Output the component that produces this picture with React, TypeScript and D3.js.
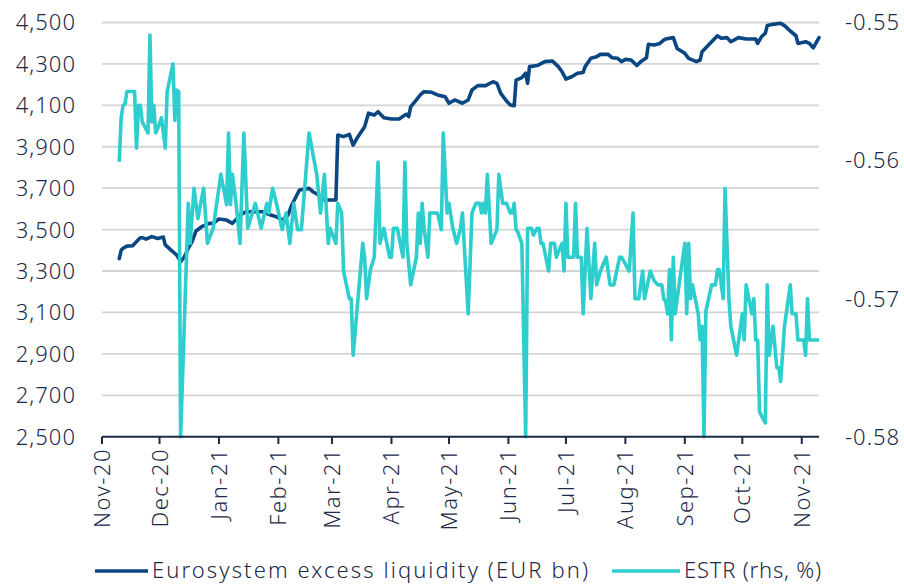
import React from "react";
import * as d3 from "d3";

const monthTicks = ["2020-11-01","2020-12-01","2021-01-01","2021-02-01","2021-03-01","2021-04-01","2021-05-01","2021-06-01","2021-07-01","2021-08-01","2021-09-01","2021-10-01","2021-11-01"];
const leftTicks = [2500, 2700, 2900, 3100, 3300, 3500, 3700, 3900, 4100, 4300, 4500];
const rightTicks = [-0.58, -0.57, -0.56, -0.55];

const liqDates = ["2020-11-10","2020-11-11","2020-11-12","2020-11-14","2020-11-17","2020-11-19","2020-11-21","2020-11-22","2020-11-24","2020-11-27","2020-11-30","2020-12-03","2020-12-04","2020-12-07","2020-12-10","2020-12-12","2020-12-14","2020-12-16","2020-12-18","2020-12-20","2020-12-23","2020-12-27","2020-12-29","2021-01-01","2021-01-05","2021-01-08","2021-01-12","2021-01-15","2021-01-20","2021-01-24","2021-01-28","2021-01-31","2021-02-03","2021-02-06","2021-02-08","2021-02-12","2021-02-17","2021-02-19","2021-02-22","2021-02-25","2021-03-03","2021-03-04","2021-03-07","2021-03-10","2021-03-12","2021-03-14","2021-03-18","2021-03-20","2021-03-23","2021-03-25","2021-03-28","2021-04-01","2021-04-05","2021-04-08","2021-04-09","2021-04-10","2021-04-11","2021-04-14","2021-04-16","2021-04-18","2021-04-22","2021-04-25","2021-04-29","2021-05-01","2021-05-04","2021-05-08","2021-05-11","2021-05-13","2021-05-16","2021-05-20","2021-05-24","2021-05-26","2021-05-28","2021-05-31","2021-06-02","2021-06-04","2021-06-05","2021-06-08","2021-06-10","2021-06-11","2021-06-12","2021-06-16","2021-06-20","2021-06-24","2021-06-27","2021-06-29","2021-07-01","2021-07-04","2021-07-07","2021-07-10","2021-07-11","2021-07-14","2021-07-17","2021-07-19","2021-07-23","2021-07-25","2021-07-28","2021-07-30","2021-08-01","2021-08-04","2021-08-07","2021-08-09","2021-08-12","2021-08-13","2021-08-16","2021-08-19","2021-08-21","2021-08-22","2021-08-26","2021-08-28","2021-09-01","2021-09-03","2021-09-07","2021-09-09","2021-09-10","2021-09-12","2021-09-15","2021-09-18","2021-09-20","2021-09-23","2021-09-25","2021-09-29","2021-10-03","2021-10-08","2021-10-09","2021-10-11","2021-10-13","2021-10-14","2021-10-17","2021-10-21","2021-10-23","2021-10-26","2021-10-29","2021-10-30","2021-11-03","2021-11-05","2021-11-07","2021-11-10"];
const liqValues = [3360,3400,3410,3420,3422,3442,3461,3461,3454,3466,3457,3464,3426,3401,3377,3345,3369,3410,3442,3493,3514,3530,3530,3551,3546,3530,3570,3586,3586,3586,3570,3562,3546,3570,3619,3691,3699,3683,3667,3643,3643,3957,3949,3960,3908,3941,3997,4062,4053,4069,4040,4034,4034,4053,4057,4046,4093,4126,4150,4166,4163,4150,4142,4110,4126,4110,4126,4174,4195,4195,4214,4206,4158,4121,4102,4098,4222,4234,4255,4206,4287,4292,4311,4314,4287,4262,4227,4238,4255,4259,4287,4327,4335,4346,4346,4330,4327,4311,4322,4319,4292,4311,4330,4395,4391,4399,4415,4420,4427,4375,4351,4327,4311,4319,4359,4378,4407,4436,4424,4427,4407,4427,4420,4420,4399,4431,4448,4485,4491,4496,4485,4459,4436,4399,4407,4399,4378,4427];

const estrDates = ["2020-11-10","2020-11-11","2020-11-12","2020-11-13","2020-11-14","2020-11-18","2020-11-19","2020-11-20","2020-11-21","2020-11-22","2020-11-25","2020-11-26","2020-11-27","2020-11-28","2020-11-29","2020-11-30","2020-12-02","2020-12-04","2020-12-05","2020-12-08","2020-12-09","2020-12-10","2020-12-11","2020-12-12","2020-12-16","2020-12-17","2020-12-19","2020-12-21","2020-12-24","2020-12-26","2020-12-29","2021-01-02","2021-01-05","2021-01-06","2021-01-07","2021-01-08","2021-01-10","2021-01-12","2021-01-14","2021-01-16","2021-01-20","2021-01-23","2021-01-26","2021-01-27","2021-01-29","2021-01-31","2021-02-03","2021-02-05","2021-02-07","2021-02-09","2021-02-11","2021-02-13","2021-02-17","2021-02-21","2021-02-23","2021-02-25","2021-02-27","2021-02-28","2021-03-03","2021-03-04","2021-03-06","2021-03-07","2021-03-10","2021-03-11","2021-03-12","2021-03-17","2021-03-18","2021-03-19","2021-03-21","2021-03-23","2021-03-25","2021-03-26","2021-03-28","2021-03-31","2021-04-01","2021-04-02","2021-04-04","2021-04-07","2021-04-08","2021-04-09","2021-04-11","2021-04-14","2021-04-15","2021-04-16","2021-04-17","2021-04-18","2021-04-20","2021-04-21","2021-04-25","2021-04-27","2021-04-28","2021-04-30","2021-05-01","2021-05-03","2021-05-05","2021-05-07","2021-05-08","2021-05-11","2021-05-13","2021-05-15","2021-05-17","2021-05-18","2021-05-19","2021-05-20","2021-05-21","2021-05-23","2021-05-26","2021-05-27","2021-05-29","2021-05-31","2021-06-02","2021-06-03","2021-06-04","2021-06-05","2021-06-06","2021-06-08","2021-06-10","2021-06-11","2021-06-13","2021-06-14","2021-06-16","2021-06-17","2021-06-18","2021-06-19","2021-06-22","2021-06-23","2021-06-25","2021-06-26","2021-06-27","2021-06-29","2021-06-30","2021-07-01","2021-07-02","2021-07-05","2021-07-06","2021-07-07","2021-07-09","2021-07-10","2021-07-12","2021-07-14","2021-07-16","2021-07-17","2021-07-19","2021-07-22","2021-07-24","2021-07-26","2021-07-29","2021-07-30","2021-08-03","2021-08-05","2021-08-06","2021-08-08","2021-08-10","2021-08-11","2021-08-14","2021-08-16","2021-08-18","2021-08-20","2021-08-21","2021-08-22","2021-08-23","2021-08-24","2021-08-25","2021-08-26","2021-08-27","2021-08-29","2021-09-01","2021-09-02","2021-09-03","2021-09-04","2021-09-05","2021-09-08","2021-09-09","2021-09-10","2021-09-11","2021-09-12","2021-09-15","2021-09-17","2021-09-18","2021-09-19","2021-09-21","2021-09-22","2021-09-24","2021-09-25","2021-09-28","2021-10-01","2021-10-02","2021-10-03","2021-10-06","2021-10-07","2021-10-08","2021-10-09","2021-10-10","2021-10-13","2021-10-14","2021-10-15","2021-10-17","2021-10-19","2021-10-20","2021-10-21","2021-10-23","2021-10-26","2021-10-27","2021-10-29","2021-10-30","2021-11-02","2021-11-03","2021-11-04","2021-11-05","2021-11-10"];
const estrValues = [-0.5601,-0.5569,-0.5560,-0.5559,-0.5550,-0.5550,-0.5591,-0.5560,-0.5560,-0.5572,-0.5580,-0.5509,-0.5572,-0.5560,-0.5580,-0.5577,-0.5569,-0.5591,-0.5550,-0.5530,-0.5571,-0.5549,-0.5550,-0.5800,-0.5631,-0.5660,-0.5620,-0.5642,-0.5620,-0.5660,-0.5649,-0.5610,-0.5632,-0.5580,-0.5632,-0.5610,-0.5632,-0.5660,-0.5580,-0.5649,-0.5631,-0.5649,-0.5631,-0.5638,-0.5620,-0.5631,-0.5650,-0.5638,-0.5660,-0.5631,-0.5650,-0.5650,-0.5580,-0.5610,-0.5638,-0.5610,-0.5660,-0.5649,-0.5660,-0.5631,-0.5638,-0.5680,-0.5700,-0.5700,-0.5741,-0.5660,-0.5670,-0.5700,-0.5679,-0.5670,-0.5601,-0.5660,-0.5649,-0.5670,-0.5670,-0.5649,-0.5649,-0.5670,-0.5601,-0.5660,-0.5690,-0.5670,-0.5638,-0.5660,-0.5631,-0.5649,-0.5670,-0.5638,-0.5638,-0.5650,-0.5580,-0.5638,-0.5631,-0.5649,-0.5660,-0.5649,-0.5638,-0.5711,-0.5638,-0.5631,-0.5631,-0.5638,-0.5631,-0.5638,-0.5610,-0.5660,-0.5650,-0.5610,-0.5631,-0.5631,-0.5638,-0.5638,-0.5631,-0.5650,-0.5652,-0.5660,-0.5800,-0.5649,-0.5649,-0.5654,-0.5649,-0.5649,-0.5660,-0.5660,-0.5680,-0.5660,-0.5660,-0.5670,-0.5666,-0.5660,-0.5680,-0.5631,-0.5670,-0.5670,-0.5631,-0.5670,-0.5670,-0.5711,-0.5649,-0.5700,-0.5660,-0.5690,-0.5680,-0.5670,-0.5690,-0.5690,-0.5670,-0.5670,-0.5680,-0.5638,-0.5700,-0.5700,-0.5680,-0.5700,-0.5680,-0.5687,-0.5690,-0.5690,-0.5700,-0.5702,-0.5711,-0.5679,-0.5730,-0.5670,-0.5711,-0.5690,-0.5660,-0.5711,-0.5660,-0.5700,-0.5690,-0.5711,-0.5730,-0.5720,-0.5800,-0.5709,-0.5690,-0.5690,-0.5679,-0.5679,-0.5700,-0.5620,-0.5700,-0.5720,-0.5741,-0.5711,-0.5730,-0.5690,-0.5711,-0.5700,-0.5730,-0.5730,-0.5782,-0.5790,-0.5690,-0.5741,-0.5720,-0.5750,-0.5750,-0.5760,-0.5720,-0.5690,-0.5711,-0.5711,-0.5730,-0.5730,-0.5741,-0.5700,-0.5730,-0.5730];

const legendLabels = ["Eurosystem excess liquidity (EUR bn)", "ESTR (rhs, %)"];
const monthFmt = d3.timeFormat("%b-%y");

const W = 904, H = 585;
const NAVY = "#0a4682";
const TEAL = "#2ecdce";
const TEXT = "#1c2a48";
const FONT = "'Noto Sans', sans-serif";

export default function App() {
  const parse = d3.timeParse("%Y-%m-%d");
  const x = d3.scaleTime().domain([parse("2020-11-01")!, parse("2021-11-10")!]).range([102, 819]);
  const yL = d3.scaleLinear().domain([2500, 4500]).range([436.7, 22.5]);
  const yR = d3.scaleLinear().domain([-0.58, -0.55]).range([436.7, 22.5]);

  const liq = liqDates.map((d, i) => ({ d: parse(d)!, v: liqValues[i] }));
  const estr = estrDates.map((d, i) => ({ d: parse(d)!, v: estrValues[i] }));

  const lineL = d3.line<{ d: Date; v: number }>().x(p => x(p.d)).y(p => yL(p.v));
  const lineR = d3.line<{ d: Date; v: number }>().x(p => x(p.d)).y(p => yR(p.v));

  const [x0, x1] = x.range();
  const fmtR = (t: number) => d3.format(".2f")(t).replace("\u2212", "-");

  return (
    <svg width={W} height={H} style={{ position: "absolute", left: 0, top: 0, background: "#fff" }} fontFamily={FONT} fontWeight={300}>
      {leftTicks.filter(t => t !== 2500).map(t => (
        <line key={t} x1={x0} x2={x1} y1={yL(t)} y2={yL(t)} stroke="#d4d4d4" strokeWidth={1.8} />
      ))}
      {leftTicks.map(t => (
        <text key={t} x={76} y={yL(t)} dy="0.36em" textAnchor="end" fontSize={22} letterSpacing={1} fill={TEXT}>
          {d3.format(",")(t)}
        </text>
      ))}
      {rightTicks.map(t => (
        <text key={t} x={845} y={yR(t)} dy="0.36em" textAnchor="start" fontSize={22} letterSpacing={1} fill={TEXT}>
          {fmtR(t)}
        </text>
      ))}
      <path d={lineL(liq)!} fill="none" stroke={NAVY} strokeWidth={3.6} strokeLinejoin="round" strokeLinecap="round" />
      <path d={lineR(estr)!} fill="none" stroke={TEAL} strokeWidth={3.6} strokeLinejoin="round" />
      <line x1={x0} x2={x1} y1={436.7} y2={436.7} stroke={TEXT} strokeWidth={2} />
      {monthTicks.map(m => {
        const xx = x(parse(m)!);
        return (
          <g key={m}>
            <line x1={xx} x2={xx} y1={436.7} y2={444} stroke={TEXT} strokeWidth={2} />
            <text transform={`translate(${xx + 8},${448}) rotate(-90)`} textAnchor="end" fontSize={22} letterSpacing={1.5} fill={TEXT}>
              {monthFmt(parse(m)!)}
            </text>
          </g>
        );
      })}
      <line x1={95} x2={148} y1={571} y2={571} stroke={NAVY} strokeWidth={3.6} />
      <text x={152} y={570} dy="0.36em" fontSize={22} textLength={436} lengthAdjust="spacing" fill={TEXT}>{legendLabels[0]}</text>
      <line x1={612} x2={680} y1={571} y2={571} stroke={TEAL} strokeWidth={3.6} />
      <text x={684} y={570} dy="0.36em" fontSize={22} textLength={137} lengthAdjust="spacing" fill={TEXT}>{legendLabels[1]}</text>
    </svg>
  );
}
